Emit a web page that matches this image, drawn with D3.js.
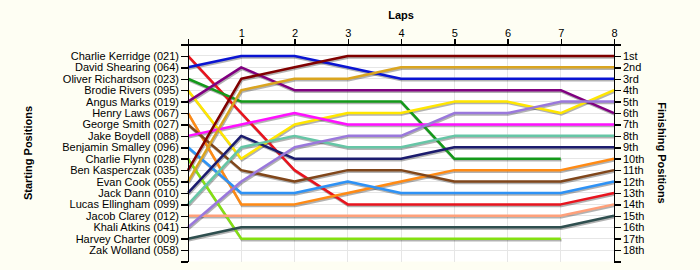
<!DOCTYPE html>
<html>
<head>
<meta charset="utf-8">
<script src="https://cdn.jsdelivr.net/npm/d3@7"></script>
<style>
  body { margin: 0; background: #fefef3; }
  svg { display: block; font-family: "Liberation Sans", Arial, sans-serif; }
  .axis path, .axis line { stroke: #000; stroke-width: 1.5; shape-rendering: crispEdges; }
  .axis text { fill: #000; font-size: 11px; }
  .title { font-size: 11px; font-weight: bold; fill: #000; }
</style>
</head>
<body>
<div id="chart"></div>
<script>
var drivers = ['Charlie Kerridge (021)', 'David Shearing (064)', 'Oliver Richardson (023)', 'Brodie Rivers (095)',
  'Angus Marks (019)', 'Henry Laws (067)', 'George Smith (027)', 'Jake Boydell (088)', 'Benjamin Smalley (096)',
  'Charlie Flynn (028)', 'Ben Kasperczak (035)', 'Evan Cook (055)', 'Jack Dann (010)', 'Lucas Ellingham (099)',
  'Jacob Clarey (012)', 'Khali Atkins (041)', 'Harvey Charter (009)', 'Zak Wolland (058)'];

var colors = ['#e8141e', '#0a14d2', '#14991a', '#ffe600', '#800080', '#ff8a14', '#80461a', '#ff10ff', '#2e92f5',
  '#84e012', '#800000', '#daa520', '#1c1c6e', '#66c6a6', '#ffa07a', '#9a78dc', '#2f4f4f', '#888888'];

var laps = [0, 1, 2, 3, 4, 5, 6, 7, 8];
var lapLabels = ['', '1', '2', '3', '4', '5', '6', '7', '8'];

// position at each lap (0..8), null = not running
var positions = [
  [1, 6, 11, 14, 14, 14, 14, 14, 13],
  [2, 1, 1, 2, 3, 3, 3, 3, 3],
  [3, 5, 5, 5, 5, 10, 10, 10, null],
  [4, 10, 7, 6, 6, 5, 5, 6, 4],
  [5, 2, 4, 4, 4, 4, 4, 4, 6],
  [6, 14, 14, 13, 12, 11, 11, 11, 10],
  [7, 11, 12, 11, 11, 12, 12, 12, 11],
  [8, 7, 6, 7, 7, 7, 7, 7, 7],
  [9, 13, 13, 12, 13, 13, 13, 13, 12],
  [10, 17, 17, 17, 17, 17, 17, 17, null],
  [11, 3, 2, 1, 1, 1, 1, 1, 1],
  [12, 4, 3, 3, 2, 2, 2, 2, 2],
  [13, 8, 10, 10, 10, 9, 9, 9, 9],
  [14, 9, 8, 9, 9, 8, 8, 8, 8],
  [15, 15, 15, 15, 15, 15, 15, 15, 14],
  [16, 12, 9, 8, 8, 6, 6, 5, 5],
  [17, 16, 16, 16, 16, 16, 16, 16, 15],
  []
];

var finishLabels = ['1st', '2nd', '3rd', '4th', '5th', '6th', '7th', '8th', '9th', '10th',
  '11th', '12th', '13th', '14th', '15th', '16th', '17th', '18th'];

var width = 700, height = 270;

var svg = d3.select('#chart').append('svg')
  .attr('width', width)
  .attr('height', height);

var x = d3.scaleLinear().domain([0, 8]).range([188, 614]);
var y = d3.scaleLinear().domain([0, 19]).range([44.5, 261.5]);

// plot background
svg.append('rect')
  .attr('x', x(0)).attr('y', y(0))
  .attr('width', x(8) - x(0)).attr('height', y(19) - y(0))
  .attr('fill', '#fff');

// grid
svg.append('g').selectAll('line')
  .data(d3.range(1, 19))
  .enter().append('line')
  .attr('x1', x(0)).attr('x2', x(8))
  .attr('y1', function(d) { return y(d); })
  .attr('y2', function(d) { return y(d); })
  .attr('stroke', '#e6e6e6')
  .attr('shape-rendering', 'crispEdges');

svg.append('g').selectAll('line')
  .data(laps.slice(1, 8))
  .enter().append('line')
  .attr('x1', function(d) { return x(d); })
  .attr('x2', function(d) { return x(d); })
  .attr('y1', y(0)).attr('y2', y(19))
  .attr('stroke', '#e6e6e6')
  .attr('shape-rendering', 'crispEdges');

var line = d3.line()
  .defined(function(d) { return d != null; })
  .x(function(d, i) { return x(laps[i]); })
  .y(function(d) { return y(d); });

var series = positions.map(function(p, i) { return { pos: p, color: colors[i] }; })
  .filter(function(s) { return s.pos.length > 0; });

// shadows
svg.append('g')
  .attr('transform', 'translate(0.8,1.5)')
  .selectAll('path')
  .data(series)
  .enter().append('path')
  .attr('d', function(d) { return line(d.pos); })
  .attr('fill', 'none')
  .attr('stroke', '#000')
  .attr('stroke-opacity', 0.3)
  .attr('stroke-width', 2.5);

// lines
svg.append('g')
  .selectAll('path')
  .data(series)
  .enter().append('path')
  .attr('d', function(d) { return line(d.pos); })
  .attr('fill', 'none')
  .attr('stroke', function(d) { return d.color; })
  .attr('stroke-width', 2.5)
  .attr('stroke-linejoin', 'round');

// axes
svg.append('g')
  .attr('class', 'axis')
  .attr('transform', 'translate(' + x(0) + ',0)')
  .call(d3.axisLeft(y)
    .tickValues(d3.range(0, 20))
    .tickSize(7).tickSizeOuter(0).tickPadding(2)
    .tickFormat(function(d) { return drivers[d - 1] || ''; }));

svg.append('g')
  .attr('class', 'axis')
  .attr('transform', 'translate(' + x(8) + ',0)')
  .call(d3.axisRight(y)
    .tickValues(d3.range(0, 20))
    .tickSize(7).tickSizeOuter(0).tickPadding(2)
    .tickFormat(function(d) { return finishLabels[d - 1] || ''; }));

svg.append('g')
  .attr('class', 'axis')
  .attr('transform', 'translate(0,' + y(0) + ')')
  .call(d3.axisTop(x)
    .tickValues(laps)
    .tickSize(6).tickSizeOuter(0).tickPadding(2)
    .tickFormat(function(d, i) { return lapLabels[i]; }));

// titles
svg.append('text')
  .attr('class', 'title')
  .attr('x', (x(0) + x(8)) / 2)
  .attr('y', 19)
  .attr('text-anchor', 'middle')
  .text('Laps');

svg.append('text')
  .attr('class', 'title')
  .attr('transform', 'translate(32,' + (y(0) + y(19)) / 2 + ') rotate(-90)')
  .attr('text-anchor', 'middle')
  .text('Starting Positions');

svg.append('text')
  .attr('class', 'title')
  .attr('transform', 'translate(658,' + (y(0) + y(19)) / 2 + ') rotate(90)')
  .attr('text-anchor', 'middle')
  .text('Finishing Positions');
</script>
</body>
</html>
